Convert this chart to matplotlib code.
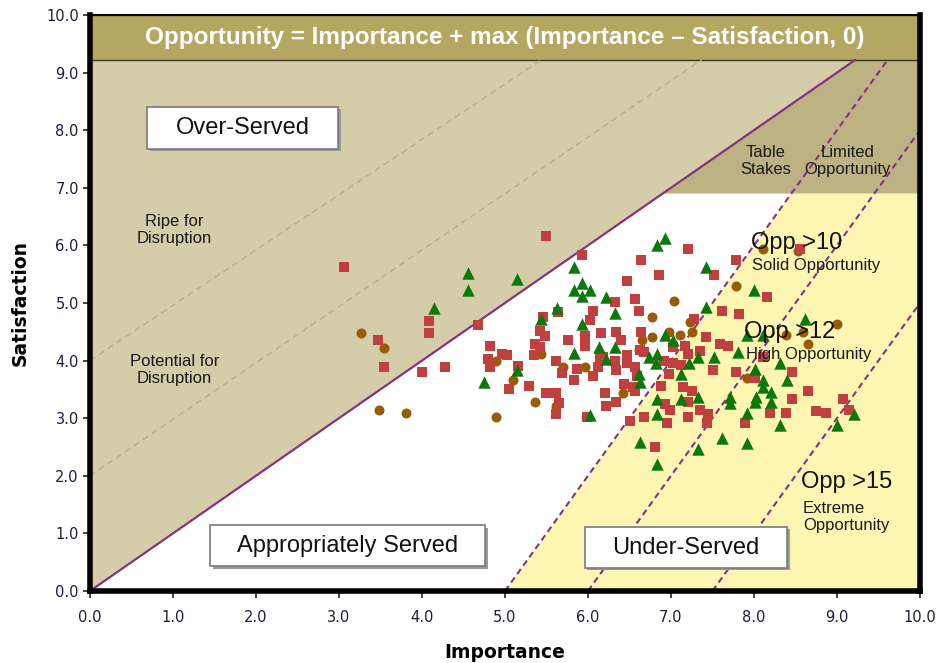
import numpy as np
import matplotlib.pyplot as plt
from matplotlib.patches import Polygon, Rectangle

# ---- data (Importance, Satisfaction) ----
red_x = [5.49, 3.06, 5.93, 4.08, 4.08, 3.47, 3.54, 4.68, 4.00, 4.28, 4.82, 4.79, 4.82, 4.96, 5.02,
         5.16, 5.05, 5.29, 5.49, 5.62, 5.65, 5.62, 5.99, 5.46, 5.42, 5.48, 5.36, 5.42, 5.35, 5.76,
         5.96, 5.96, 5.62, 5.69, 5.87, 5.83, 6.02, 6.06, 6.16, 6.33, 5.64, 6.06, 6.12, 6.20, 6.22,
         6.34, 6.34, 6.33, 6.34, 7.21, 6.64, 6.85, 6.47, 7.78, 7.52, 8.55, 8.16, 6.57, 6.61, 7.62,
         7.82, 7.28, 6.64, 6.40, 7.42, 7.59, 7.69, 7.17, 7.35, 7.03, 6.18, 6.47, 6.57, 6.67, 6.91,
         7.02, 7.12, 6.98, 7.51, 7.78, 8.11, 8.01, 8.46, 6.44, 6.54, 6.88, 7.15, 6.99, 6.51, 6.67,
         6.95, 7.21, 7.35, 7.45, 7.43, 7.21, 7.89, 8.19, 8.39, 8.46, 8.65, 8.75, 8.87, 9.14, 9.07,
         6.81, 6.14, 6.47, 6.59, 6.63, 7.21, 6.57, 7.25, 6.93]
red_y = [6.16, 5.62, 5.83, 4.68, 4.48, 4.35, 3.89, 4.62, 3.80, 3.89, 4.25, 4.02, 3.89, 4.12, 4.09,
         3.90, 3.51, 3.56, 3.43, 3.43, 3.26, 3.08, 3.02, 4.75, 4.51, 4.42, 4.29, 4.24, 4.09, 4.35,
         4.42, 4.25, 3.99, 3.78, 3.85, 3.66, 4.70, 4.86, 4.48, 5.01, 4.84, 3.74, 3.89, 3.43, 3.22,
         3.28, 3.83, 4.00, 4.49, 5.93, 5.75, 5.49, 5.39, 5.75, 5.49, 5.94, 5.11, 5.07, 4.86, 4.86,
         4.81, 4.73, 4.49, 4.35, 4.41, 4.28, 4.25, 4.25, 4.16, 4.24, 4.06, 3.95, 3.89, 4.15, 4.00,
         3.95, 3.92, 3.77, 3.83, 3.80, 4.06, 3.69, 3.80, 3.60, 3.54, 3.56, 3.54, 3.14, 2.95, 3.02,
         2.91, 3.02, 3.14, 3.08, 2.91, 3.28, 2.92, 3.09, 3.09, 3.34, 3.47, 3.12, 3.09, 3.15, 3.34,
         2.50, 4.06, 4.09, 3.74, 4.18, 4.12, 3.48, 3.48, 3.25]

green_x = [4.55, 4.55, 5.14, 4.15, 5.83, 5.93, 5.83, 6.03, 5.93, 6.22, 6.33, 5.63, 5.44, 5.93, 5.83,
           6.13, 6.33, 6.22, 5.14, 4.75, 6.03, 6.93, 6.83, 7.42, 8.00, 7.42, 8.61, 7.91, 8.11, 6.93,
           7.03, 6.73, 6.83, 6.82, 6.62, 6.63, 7.12, 7.22, 7.32, 7.52, 7.81, 8.01, 8.31, 8.40, 8.11,
           8.11, 8.21, 8.02, 8.21, 8.01, 7.71, 7.71, 7.91, 7.32, 7.12, 6.83, 6.83, 8.31, 9.00, 9.20,
           6.63, 7.32, 7.62, 7.91, 6.83]
green_y = [5.52, 5.22, 5.41, 4.92, 5.62, 5.34, 5.22, 5.23, 5.13, 5.11, 4.82, 4.92, 4.73, 4.63, 4.13,
           4.24, 4.24, 4.03, 3.83, 3.63, 3.05, 6.13, 6.01, 5.62, 5.23, 4.93, 4.73, 4.44, 4.44, 4.44,
           4.35, 4.06, 4.12, 3.95, 3.76, 3.63, 3.76, 3.95, 4.06, 4.06, 4.15, 3.86, 3.95, 3.66, 3.66,
           3.54, 3.46, 3.37, 3.28, 3.28, 3.37, 3.26, 3.09, 3.37, 3.34, 3.34, 3.08, 2.88, 2.88, 3.08,
           2.59, 2.47, 2.66, 2.57, 2.20]

brown_x = [3.27, 3.54, 3.48, 3.81, 4.89, 5.10, 4.89, 5.36, 5.70, 5.96, 5.43, 5.62, 8.11, 8.53, 7.78,
           7.04, 6.77, 7.23, 7.25, 6.98, 6.77, 7.11, 6.65, 6.62, 8.39, 8.59, 9.00, 8.65, 7.91, 6.42]
brown_y = [4.48, 4.22, 3.15, 3.09, 4.00, 3.67, 3.02, 3.28, 3.89, 3.89, 4.12, 3.22, 5.94, 5.90, 5.29,
           5.03, 4.75, 4.67, 4.49, 4.49, 4.41, 4.44, 4.35, 4.18, 4.44, 4.49, 4.63, 4.29, 3.69, 3.43]

# reference lines
ticks = np.arange(0, 11)
tick_labels = ['%.1f' % t for t in ticks]
band_bottom = 9.22
stakes_level = 6.9
opp_levels = [10, 12, 15]          # Opportunity = 2*I - S
disruption_lines = [(4.0, 0.96), (2.0, 0.98)]   # (intercept, slope)

title = 'Opportunity = Importance + max (Importance \u2013 Satisfaction, 0)'

TAN = '#d5cca9'
BAND = '#b3a762'
STAKES = '#bdb283'
YELLOW = '#fdf6b3'
PURPLE = '#83347e'

fig = plt.figure(figsize=(9.4, 6.63), dpi=100)
ax = fig.add_axes([0.0957, 0.1086, 0.883, 0.8688])
ax.set_xlim(0, 10)
ax.set_ylim(0, 10)

# regions
ax.add_patch(Polygon([(0, 0), (band_bottom, band_bottom), (0, band_bottom)], closed=True,
                     facecolor=TAN, edgecolor='none', zorder=0))
ax.add_patch(Polygon([(stakes_level, stakes_level), (band_bottom, band_bottom), (10, band_bottom),
                      (10, stakes_level)], closed=True, facecolor=STAKES, edgecolor='none', zorder=0))
x_start = opp_levels[0] / 2
x_top = (stakes_level + opp_levels[0]) / 2
ax.add_patch(Polygon([(x_start, 0), (10, 0), (10, stakes_level), (x_top, stakes_level)],
                     closed=True, facecolor=YELLOW, edgecolor='none', zorder=0))
ax.add_patch(Rectangle((0, band_bottom), 10, 10 - band_bottom, facecolor=BAND,
                       edgecolor='#3a3520', lw=1, zorder=1))
ax.text(5, (band_bottom + 10) / 2, title, ha='center', va='center', color='white',
        fontsize=17.5, fontweight='bold', family=['Liberation Sans Narrow', 'Liberation Sans'],
        zorder=6)

# disruption guide lines
for c, m in disruption_lines:
    xe = (band_bottom - c) / m
    ax.plot([0, xe], [c, band_bottom], ls=(0, (4, 3)), color='#bfb07a', lw=1.1, zorder=1)

# diagonal importance = satisfaction
ax.plot([0, band_bottom], [0, band_bottom], color=PURPLE, lw=1.6, zorder=2)

# opportunity iso-lines
for o in opp_levels:
    xs = np.array([o / 2, min(10, (band_bottom + o) / 2)])
    ax.plot(xs, 2 * xs - o, ls=(0, (3, 2)), color=PURPLE, lw=1.5, zorder=2)

# points
ax.scatter(brown_x, brown_y, marker='o', s=52, color='#9a5b05', zorder=3, linewidths=0)
ax.scatter(red_x, red_y, marker='s', s=50, color='#c0403f', zorder=4, linewidths=0)
ax.scatter(green_x, green_y, marker='^', s=80, color='#0c780c', zorder=5, linewidths=0)

# labelled boxes
lab = ['Liberation Sans', 'DejaVu Sans']
boxes = [('Over-Served', 0.69, 7.68, 2.30, 0.73),
         ('Appropriately Served', 1.45, 0.43, 3.31, 0.71),
         ('Under-Served', 5.96, 0.40, 2.44, 0.71)]
for txt, bx, by, bw, bh in boxes:
    ax.add_patch(Rectangle((bx + 0.03, by - 0.04), bw, bh, facecolor='#9a9a9a',
                           edgecolor='none', zorder=6))
    ax.add_patch(Rectangle((bx, by), bw, bh, facecolor='white', edgecolor='#7a7a7a',
                           lw=1.2, zorder=6))
    ax.text(bx + bw / 2, by + bh / 2, txt, ha='center', va='center', fontsize=17,
            family=lab, color='#111111', zorder=7)

small = dict(fontsize=12, family=lab, color='#1a1a1a', zorder=7, linespacing=1.15)
ax.text(1.02, 6.27, 'Ripe for\nDisruption', ha='center', va='center', **small)
ax.text(1.02, 3.83, 'Potential for\nDisruption', ha='center', va='center', **small)
ax.text(8.14, 7.47, 'Table\nStakes', ha='center', va='center', **small)
ax.text(9.13, 7.47, 'Limited\nOpportunity', ha='center', va='center', **small)
ax.text(7.96, 6.05, 'Opp >10', ha='left', va='center', fontsize=17, family=lab,
        color='#111111', zorder=7)
ax.text(7.98, 5.65, 'Solid Opportunity', ha='left', va='center', **small)
ax.text(7.88, 4.50, 'Opp >12', ha='left', va='center', fontsize=17, family=lab,
        color='#111111', zorder=7)
ax.text(7.90, 4.10, 'High Opportunity', ha='left', va='center', **small)
ax.text(8.57, 1.89, 'Opp >15', ha='left', va='center', fontsize=17, family=lab,
        color='#111111', zorder=7)
ax.text(8.59, 1.29, 'Extreme\nOpportunity', ha='left', va='center', **small)

# axes styling
ax.set_xticks(ticks)
ax.set_xticklabels(tick_labels)
ax.set_yticks(ticks)
ax.set_yticklabels(tick_labels)
ax.tick_params(direction='out', length=5, width=1.2, colors='#222222', labelsize=10.5,
               labelcolor='#1c1c40')
ax.tick_params(axis='x', pad=9)
ax.tick_params(axis='y', pad=3)
for side in ['left', 'right', 'bottom']:
    ax.spines[side].set_linewidth(4)
ax.spines['top'].set_linewidth(1.5)
ax.set_xlabel('Importance', fontsize=13.5, fontweight='bold', labelpad=13)
ax.set_ylabel('Satisfaction', fontsize=13.5, fontweight='bold', labelpad=12)

fig.savefig('out.png', dpi=100)
